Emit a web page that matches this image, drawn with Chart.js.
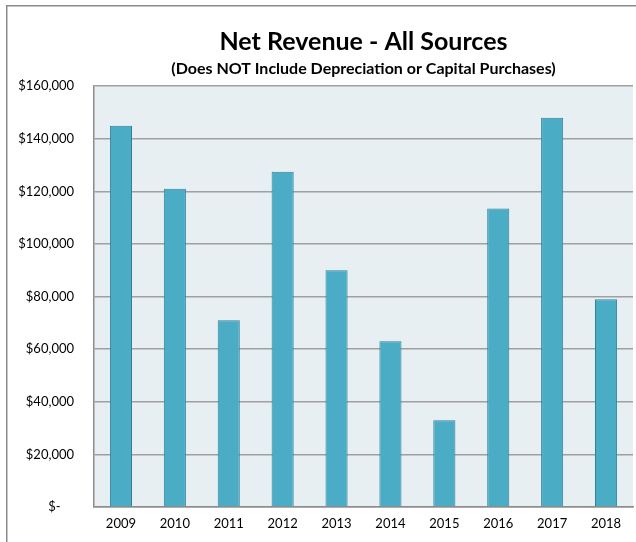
<!DOCTYPE html>
<html>
<head>
<meta charset="utf-8">
<script src="https://cdn.jsdelivr.net/npm/chart.js@4"></script>
<style>
  html, body { margin: 0; padding: 0; background: #fff; overflow: hidden; }
  #wrap { position: relative; width: 636px; height: 542px; }
  canvas { display: block; }
</style>
</head>
<body>
<div id="wrap"><canvas id="revenueChart" width="636" height="542"></canvas></div>
<script>
const years = ["2009", "2010", "2011", "2012", "2013", "2014", "2015", "2016", "2017", "2018"];
const netRevenue = [145000, 121000, 71000, 127500, 90000, 63000, 33000, 113500, 148000, 79000];
const yTicks = [0, 20000, 40000, 60000, 80000, 100000, 120000, 140000, 160000];

const FONT = "Lato, 'Open Sans', sans-serif";

// plot background and outer frame (only left and top edges are in view)
const frame = {
  id: "frame",
  beforeDraw(chart) {
    const ctx = chart.ctx;
    const a = chart.chartArea;
    ctx.save();
    ctx.fillStyle = "#fff";
    ctx.fillRect(0, 0, chart.width, chart.height);
    ctx.fillStyle = "#8c8c8c";
    ctx.fillRect(6, 5, 1.5, chart.height - 5);
    ctx.fillRect(6, 5, chart.width - 6, 1.5);
    ctx.fillStyle = "#e8eff3";
    ctx.fillRect(a.left, a.top, a.right - a.left, a.bottom - a.top);
    ctx.restore();
  }
};

function money(v) {
  if (v === 0) return "$-    ";
  return "$" + v.toLocaleString("en-US");
}

new Chart(document.getElementById("revenueChart"), {
  type: "bar",
  data: {
    labels: years,
    datasets: [{
      label: "Net Revenue",
      data: netRevenue,
      backgroundColor: "#4bacc6",
      borderColor: "#2f8199",
      borderWidth: 1,
      barPercentage: 0.41,
      categoryPercentage: 1
    }]
  },
  options: {
    responsive: false,
    animation: false,
    layout: { padding: { left: 0, right: 3, top: 0, bottom: 0 } },
    plugins: {
      legend: { display: false },
      tooltip: { enabled: false },
      title: {
        display: true,
        fullSize: false,
        text: "Net Revenue - All Sources",
        color: "#000",
        font: { family: FONT, size: 25, weight: "bold" },
        padding: { top: 27, bottom: 2 }
      },
      subtitle: {
        display: true,
        fullSize: false,
        text: "(Does NOT Include Depreciation or Capital Purchases)",
        color: "#000",
        font: { family: FONT, size: 16, weight: "bold" },
        padding: { top: 0, bottom: 8 }
      }
    },
    scales: {
      x: {
        grid: { display: false, drawTicks: false },
        border: { display: true, color: "#8c8c8c", width: 1.5 },
        ticks: { color: "#000", font: { family: FONT, size: 13 }, padding: 9 },
        afterFit(scale) { scale.height = 35; }
      },
      y: {
        min: 0,
        max: 160000,
        afterBuildTicks(scale) { scale.ticks = yTicks.map(v => ({ value: v })); },
        grid: { color: "#a0a0a0", lineWidth: 1.5, drawTicks: false },
        border: { display: true, color: "#8c8c8c", width: 1.5 },
        ticks: {
          color: "#000",
          font: { family: FONT, size: 13 },
          padding: 20,
          callback: v => money(v)
        },
        afterFit(scale) { scale.width = 94; }
      }
    }
  },
  plugins: [frame]
});
</script>
</body>
</html>
